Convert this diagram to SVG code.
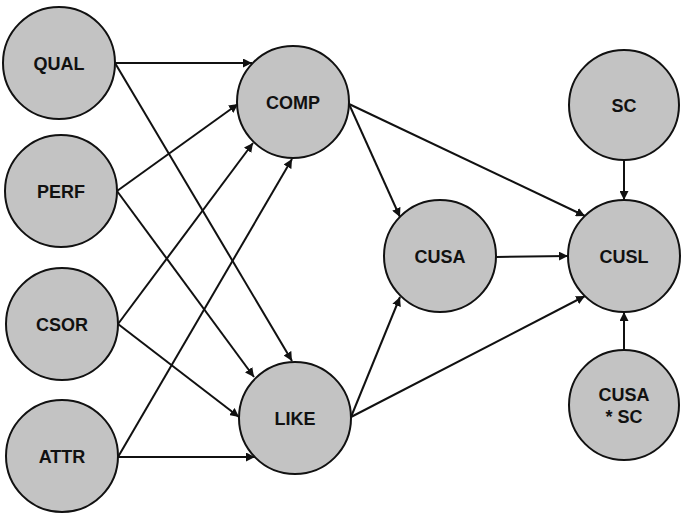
<svg xmlns="http://www.w3.org/2000/svg" width="685" height="517" viewBox="0 0 685 517">
<defs>
<marker id="ah" viewBox="0 0 10 10" refX="10" refY="5" markerWidth="9" markerHeight="9" markerUnits="userSpaceOnUse" orient="auto">
<path d="M0,0 L10,5 L0,10 z" fill="#111"/>
</marker>
<style>
.n circle{fill:#c3c3c3;stroke:#111;stroke-width:2}
.n text{font-family:"Liberation Sans",Arial,sans-serif;font-weight:bold;font-size:18px;fill:#111;text-anchor:middle}
.e line{stroke:#111;stroke-width:2;marker-end:url(#ah)}
</style>
</defs>
<rect width="685" height="517" fill="#fff"/>
<g class="e" id="connectors">
<line x1="115" y1="63" x2="252" y2="63"/>
<line x1="115" y1="63" x2="292" y2="361"/>
<line x1="117" y1="191" x2="238" y2="104"/>
<line x1="117" y1="191" x2="254" y2="377"/>
<line x1="118" y1="324" x2="253" y2="143"/>
<line x1="118" y1="324" x2="239" y2="417"/>
<line x1="118" y1="457" x2="292" y2="159"/>
<line x1="118" y1="457" x2="255" y2="457"/>
<line x1="349" y1="104" x2="400" y2="217"/>
<line x1="349" y1="104" x2="585" y2="216"/>
<line x1="351" y1="417" x2="400" y2="297"/>
<line x1="351" y1="417" x2="585" y2="296"/>
<line x1="496" y1="257" x2="568" y2="256"/>
<line x1="624" y1="160" x2="624" y2="200"/>
<line x1="624" y1="350" x2="624" y2="312"/>
</g>
<g class="n" id="QUAL"><circle cx="59" cy="63" r="56"/><text x="59" y="70">QUAL</text></g>
<g class="n" id="PERF"><circle cx="61" cy="191" r="56"/><text x="61" y="198">PERF</text></g>
<g class="n" id="CSOR"><circle cx="62" cy="324" r="56"/><text x="62" y="331">CSOR</text></g>
<g class="n" id="ATTR"><circle cx="62" cy="456" r="56"/><text x="62" y="463">ATTR</text></g>
<g class="n" id="COMP"><circle cx="293" cy="102" r="56"/><text x="293" y="109">COMP</text></g>
<g class="n" id="LIKE"><circle cx="295" cy="418" r="56"/><text x="295" y="425">LIKE</text></g>
<g class="n" id="CUSA"><circle cx="440" cy="256" r="56"/><text x="440" y="263">CUSA</text></g>
<g class="n" id="CUSL"><circle cx="624" cy="256" r="56"/><text x="624" y="263">CUSL</text></g>
<g class="n" id="SC"><circle cx="624" cy="105" r="55"/><text x="624" y="112">SC</text></g>
<g class="n" id="CUSAxSC"><circle cx="624" cy="405" r="55"/><text x="624" y="401">CUSA</text><text x="624" y="423">* SC</text></g>
</svg>
